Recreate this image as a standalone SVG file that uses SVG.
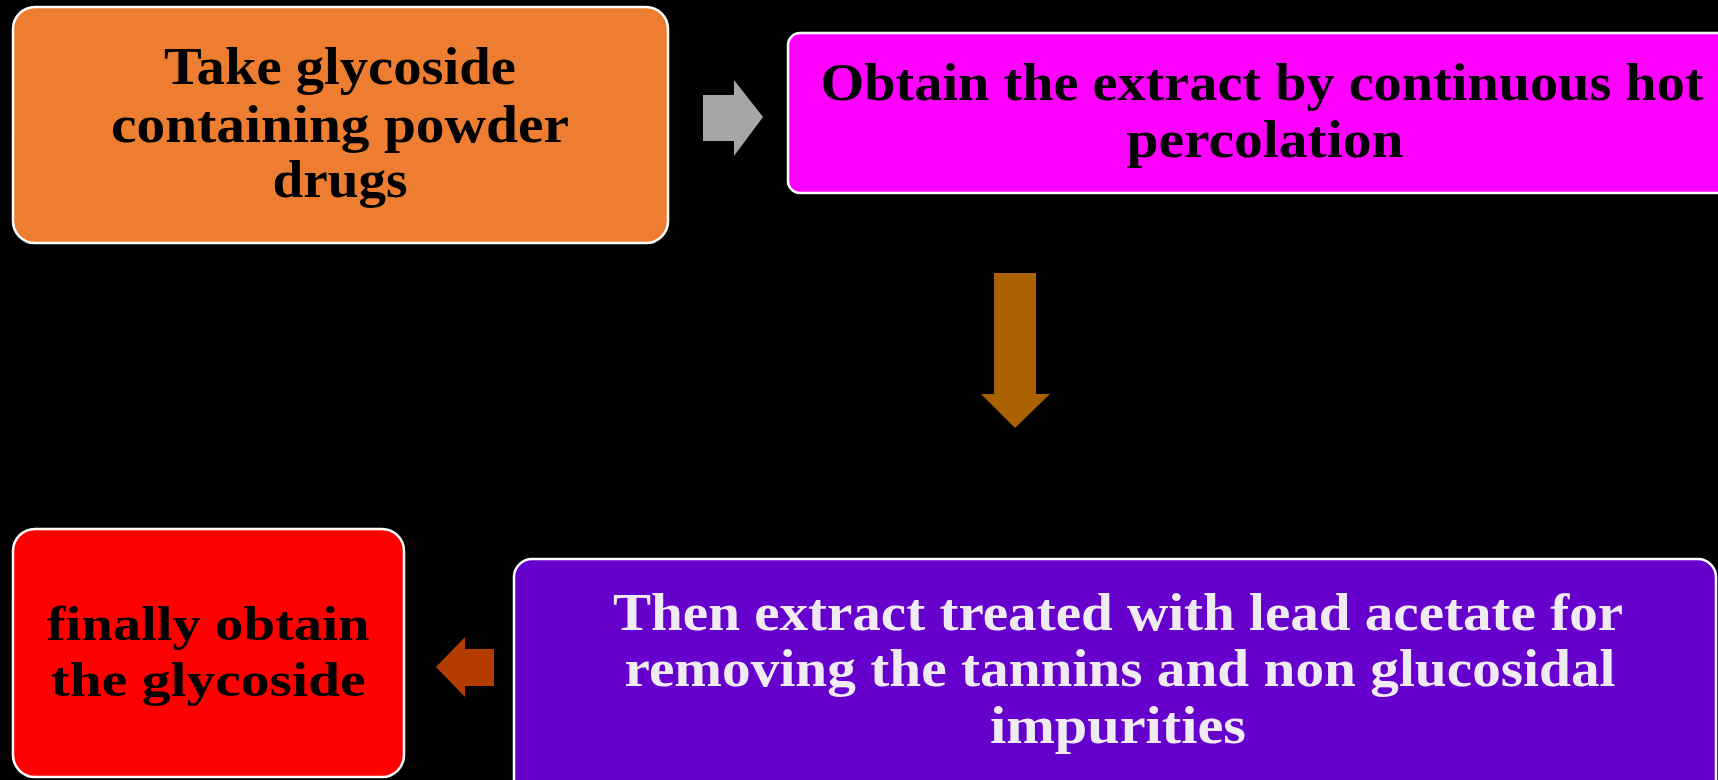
<svg xmlns="http://www.w3.org/2000/svg" width="1718" height="780" viewBox="0 0 1718 780">
  <style>
    .box { stroke: #ffffff; stroke-width: 2.5; }
    .t { font-family: "Liberation Serif", "DejaVu Serif", serif; font-weight: bold; font-size: 53px; text-anchor: middle; }
    .s { font-size: 48px; }
    .dark { fill: #000000; }
    .light { fill: #f0ebf2; }
  </style>
  <rect width="1718" height="780" fill="#000000"/>
  <g id="node-take">
    <rect class="box" x="13" y="7" width="655" height="236" rx="22" fill="#ED7D31"/>
    <text class="t dark" x="340" y="84" textLength="352" lengthAdjust="spacingAndGlyphs">Take glycoside</text>
    <text class="t dark" x="340" y="142" textLength="458" lengthAdjust="spacingAndGlyphs">containing powder</text>
    <text class="t dark" x="340" y="197" textLength="135" lengthAdjust="spacingAndGlyphs">drugs</text>
  </g>
  <g id="node-obtain">
    <rect class="box" x="788" y="33" width="960" height="160" rx="12" fill="#FF00FF"/>
    <text class="t dark" x="1262" y="100" textLength="883" lengthAdjust="spacingAndGlyphs">Obtain the extract by continuous hot</text>
    <text class="t dark" x="1265" y="157" textLength="277" lengthAdjust="spacingAndGlyphs">percolation</text>
  </g>
  <g id="node-lead">
    <rect class="box" x="514" y="559" width="1202" height="250" rx="18" fill="#6600CC"/>
    <text class="t light" x="1118" y="630" textLength="1010" lengthAdjust="spacingAndGlyphs">Then extract treated with lead acetate for</text>
    <text class="t light" x="1120" y="686" textLength="991" lengthAdjust="spacingAndGlyphs">removing the tannins and non glucosidal</text>
    <text class="t light" x="1118" y="743" textLength="256" lengthAdjust="spacingAndGlyphs">impurities</text>
  </g>
  <g id="node-final">
    <rect class="box" x="13" y="529" width="391" height="248" rx="22" fill="#FF0000"/>
    <text class="t s dark" x="208" y="640" textLength="323" lengthAdjust="spacingAndGlyphs">finally obtain</text>
    <text class="t s dark" x="208" y="696" textLength="315" lengthAdjust="spacingAndGlyphs">the glycoside</text>
  </g>
  <g id="connectors">
    <polygon fill="#A6A6A6" points="703,95 734,95 734,80 763,117 734,156 734,141 703,141"/>
    <polygon fill="#AA6200" points="994,273 1036,273 1036,394 1050,394 1015,428 981,394 994,394"/>
    <polygon fill="#B43C00" points="494,649 494,686 465,686 465,697 436,667 465,637 465,649"/>
  </g>
</svg>
